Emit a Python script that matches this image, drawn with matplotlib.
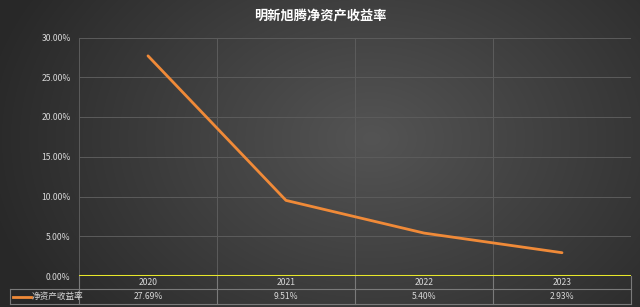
import numpy as np
import matplotlib
matplotlib.use("Agg")
import matplotlib.pyplot as plt
from matplotlib.lines import Line2D
import matplotlib.transforms as mtransforms

plt.rcParams['font.family'] = ['Noto Sans CJK SC', 'DejaVu Sans']

title = "明新旭腾净资产收益率"
series_name = "净资产收益率"
years = ["2020", "2021", "2022", "2023"]
roe = [27.69, 9.51, 5.40, 2.93]
yticks = [0, 5, 10, 15, 20, 25, 30]

W, H = 640, 307
fig = plt.figure(figsize=(W / 100, H / 100), dpi=100)

# radial gradient background
bg = fig.add_axes([0, 0, 1, 1], zorder=-10)
yy, xx = np.mgrid[0:H, 0:W]
r = np.sqrt(((xx - W * 0.58) / (W * 0.62)) ** 2 + ((yy - H * 0.45) / (H * 0.95)) ** 2)
r = np.clip(r, 0, 1)
c0 = np.array([0x54, 0x54, 0x54]) / 255
c1 = np.array([0x28, 0x28, 0x28]) / 255
img = c0[None, None, :] * (1 - r[..., None]) + c1[None, None, :] * r[..., None]
bg.imshow(img, aspect='auto', extent=[0, 1, 0, 1])
bg.set_axis_off()

left_px, right_px, top_px, bot_px = 79, 631, 37.5, 276
ax = fig.add_axes([left_px / W, 1 - bot_px / H, (right_px - left_px) / W, (bot_px - top_px) / H])
ax.patch.set_alpha(0)

x = np.arange(len(years))
grid_c = "#5c5c5c"
text_c = "#d8d8d8"

for yv in yticks[1:]:
    ax.axhline(yv, color=grid_c, lw=0.7, zorder=1)
for b in np.arange(-0.5, len(years), 1.0):
    ax.axvline(b, color=grid_c, lw=0.7, zorder=1)

ax.plot(x, roe, color="#f08a38", lw=2.0, zorder=3, solid_capstyle='round')
ax.axhline(0, color="#e8e82a", lw=2.2, zorder=4)

ax.set_xlim(-0.5, len(years) - 0.5)
ax.set_ylim(0, 30)
ax.set_yticks(yticks)
ax.set_yticklabels([f"{v:.2f}%" for v in yticks], color=text_c, fontsize=6.2)
ax.set_xticks([])
ax.tick_params(axis='y', length=0, pad=6)
for s in ax.spines.values():
    s.set_visible(False)

# data table under the axis
trans = mtransforms.blended_transform_factory(ax.transData, ax.transAxes)
ax_h = bot_px - top_px
r1 = -13 / ax_h
r2 = -28 / ax_h
tbl_left = (10 - left_px) / (right_px - left_px)
tc = "#7a7a7a"
axt = ax.transAxes
for b in np.arange(-0.5, len(years), 1.0):
    ax.add_line(Line2D([b, b], [0, r2], transform=trans, color=tc, lw=0.8, clip_on=False))
ax.add_line(Line2D([tbl_left, 1], [r1, r1], transform=axt, color=tc, lw=0.8, clip_on=False))
ax.add_line(Line2D([tbl_left, 1], [r2, r2], transform=axt, color=tc, lw=0.8, clip_on=False))
ax.add_line(Line2D([tbl_left, tbl_left], [r1, r2], transform=axt, color=tc, lw=0.8, clip_on=False))

for i, yr in enumerate(years):
    ax.text(i, r1 / 2, yr, transform=trans, ha='center', va='center', color=text_c, fontsize=6.2)
    ax.text(i, (r1 + r2) / 2, f"{roe[i]:.2f}%", transform=trans, ha='center', va='center',
            color=text_c, fontsize=6.2)

# legend key in table
lx0 = (13 - left_px) / (right_px - left_px)
lx1 = (31 - left_px) / (right_px - left_px)
ax.add_line(Line2D([lx0, lx1], [(r1 + r2) / 2] * 2, transform=axt, color="#f08a38", lw=2.0,
                   clip_on=False))
ax.text((32 - left_px) / (right_px - left_px), (r1 + r2) / 2, series_name, transform=axt,
        ha='left', va='center', color=text_c, fontsize=6.2)

fig.text(0.5, 1 - 16 / H, title, ha='center', va='center', color='white', fontsize=9.5,
         fontweight='bold')

fig.savefig("out.png", dpi=100)
